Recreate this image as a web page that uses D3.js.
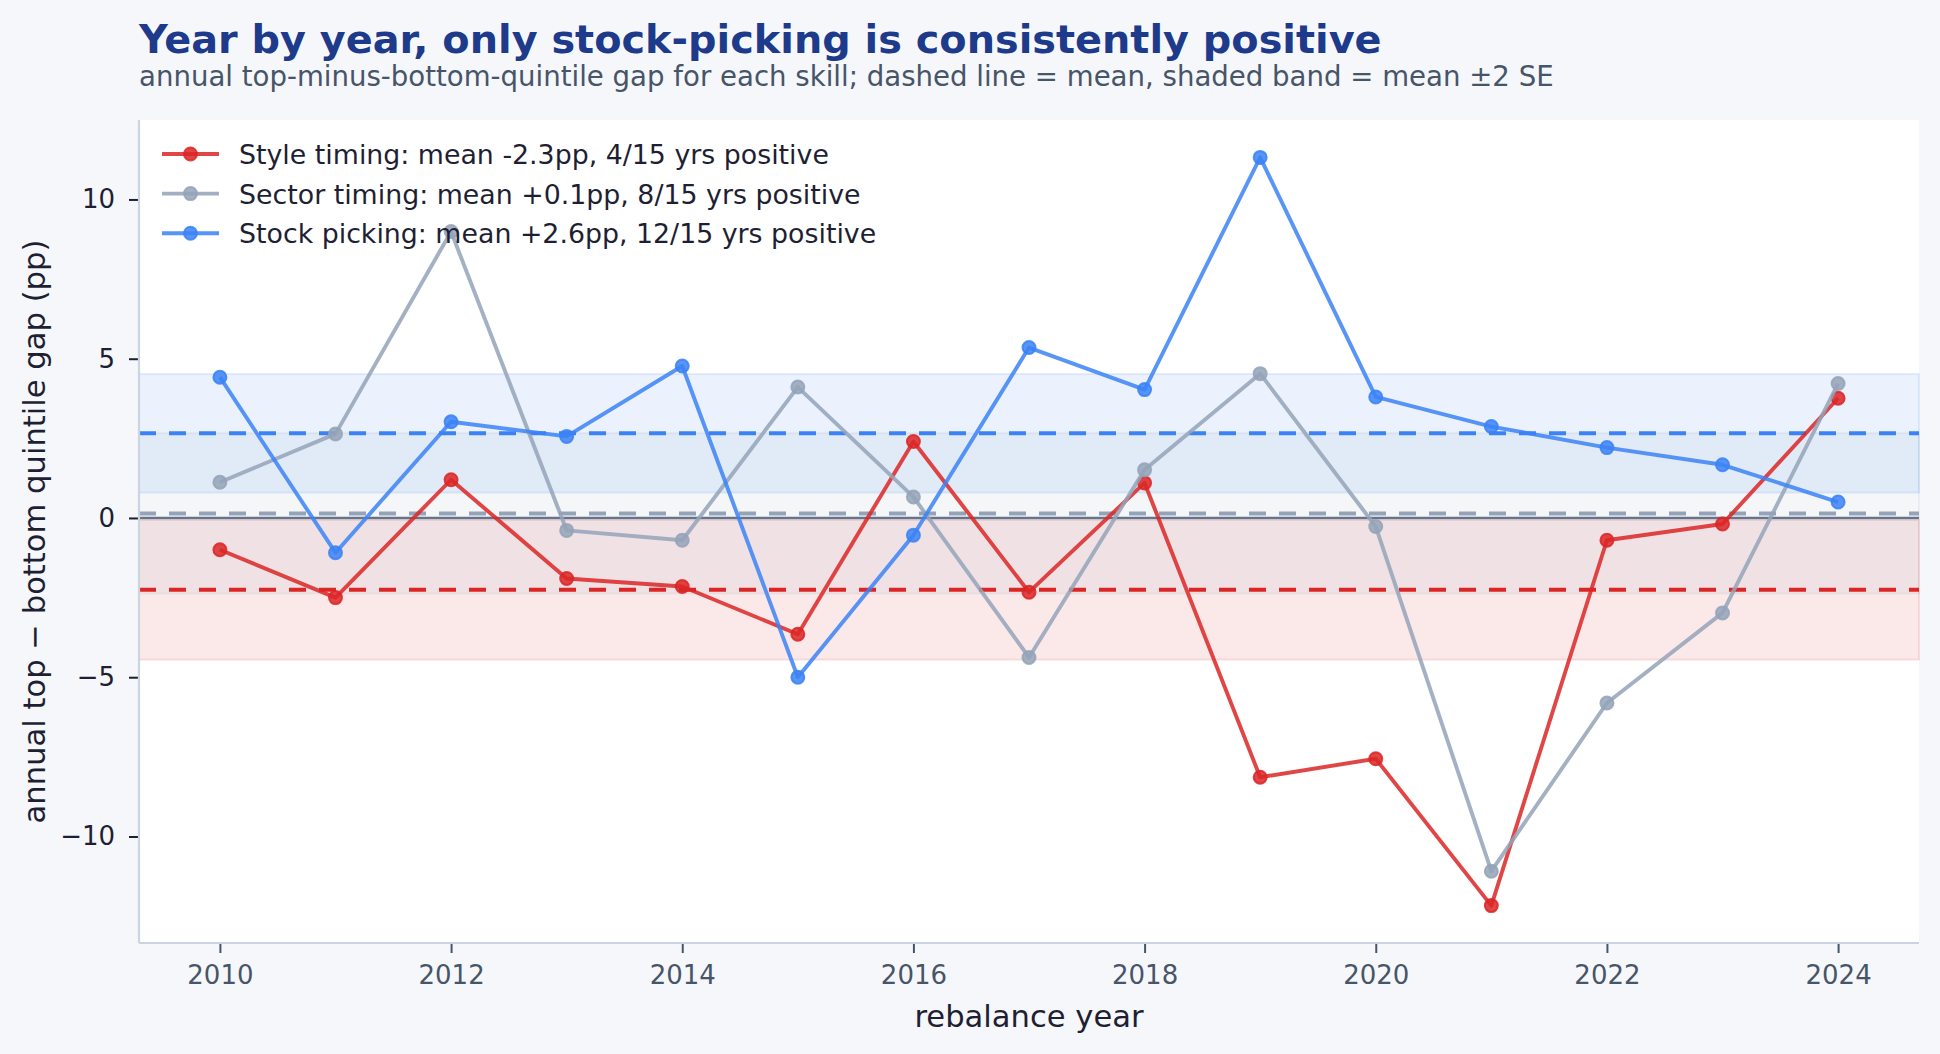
<!DOCTYPE html>
<html>
<head>
<meta charset="utf-8">
<script src="https://cdn.jsdelivr.net/npm/d3@7"></script>
<style>
    body { margin: 0; background: #f6f7fb; }
    svg text { font-family: 'DejaVu Sans', sans-serif; }
</style>
</head>
<body>
<div id="chart"></div>
<script>
// data
var years = [2010, 2011, 2012, 2013, 2014, 2015, 2016, 2017, 2018, 2019, 2020, 2021, 2022, 2023, 2024];
var styleTiming  = [-1.0, -2.5, 1.2, -1.9, -2.15, -3.65, 2.4, -2.33, 1.1, -8.14, -7.56, -12.17, -0.7, -0.19, 3.76];
var sectorTiming = [1.12, 2.64, 8.99, -0.39, -0.7, 4.11, 0.66, -4.38, 1.51, 4.53, -0.27, -11.09, -5.81, -2.98, 4.22];
var stockPicking = [4.42, -1.09, 3.02, 2.56, 4.77, -5.0, -0.54, 5.35, 4.03, 11.32, 3.8, 2.87, 2.21, 1.67, 0.5];

var seriesLabels = [
    'Style timing: mean -2.3pp, 4/15 yrs positive',
    'Sector timing: mean +0.1pp, 8/15 yrs positive',
    'Stock picking: mean +2.6pp, 12/15 yrs positive'
];
var seriesColors = ['#dc2626', '#94a3b8', '#3b82f6'];
var xTicks = [2010, 2012, 2014, 2016, 2018, 2020, 2022, 2024];
var yTicks = [-10, -5, 0, 5, 10];

var series = [styleTiming, sectorTiming, stockPicking].map(function(vals, i) {
    return {
        label: seriesLabels[i],
        color: seriesColors[i],
        values: vals.map(function(v, j) { return {year: years[j], value: v}; }),
        mean: d3.mean(vals),
        // band = mean +/- 2 standard errors
        se2: 2 * d3.deviation(vals) / Math.sqrt(vals.length)
    };
});

var W = 1940, H = 1054;
var margin = {top: 120, right: 21, bottom: 111, left: 139};
var width = W - margin.left - margin.right,
    height = H - margin.top - margin.bottom;

var svg = d3.select('#chart').append('svg')
    .attr('width', W)
    .attr('height', H)
    .style('background', '#f6f7fb');

// titles
svg.append('text')
    .attr('x', margin.left).attr('y', 53)
    .style('font-size', '39.8px').style('font-weight', 'bold')
    .style('fill', '#1e3a8a')
    .text('Year by year, only stock-picking is consistently positive');
svg.append('text')
    .attr('x', margin.left).attr('y', 86)
    .style('font-size', '27.6px')
    .style('fill', '#475569')
    .text('annual top-minus-bottom-quintile gap for each skill; dashed line = mean, shaded band = mean \u00b12 SE');

var chart = svg.append('g')
    .attr('transform', 'translate(' + margin.left + ',' + margin.top + ')');

chart.append('rect')
    .attr('width', width).attr('height', height)
    .style('fill', '#ffffff');

// scales (5% padding like matplotlib)
var xScale = d3.scaleLinear()
    .domain([2009.3, 2024.7])
    .range([0, width]);
var allVals = styleTiming.concat(sectorTiming, stockPicking);
var yExt = d3.extent(allVals);
var pad = (yExt[1] - yExt[0]) * 0.05;
var yScale = d3.scaleLinear()
    .domain([yExt[0] - pad, yExt[1] + pad])
    .range([height, 0]);

// shaded bands
chart.selectAll('rect.band')
    .data(series)
    .enter().append('rect')
    .attr('class', 'band')
    .attr('x', 0)
    .attr('width', width)
    .attr('y', function(d) { return yScale(d.mean + d.se2); })
    .attr('height', function(d) { return yScale(d.mean - d.se2) - yScale(d.mean + d.se2); })
    .style('fill', function(d) { return d.color; })
    .style('fill-opacity', 0.1)
    .style('stroke', function(d) { return d.color; })
    .style('stroke-opacity', 0.12)
    .style('stroke-width', 2);

// zero line
chart.append('line')
    .attr('x1', 0).attr('x2', width)
    .attr('y1', yScale(0)).attr('y2', yScale(0))
    .style('stroke', '#64748b')
    .style('stroke-width', 2.6);

// dashed mean lines
chart.selectAll('line.mean')
    .data(series)
    .enter().append('line')
    .attr('class', 'mean')
    .attr('x1', 0).attr('x2', width)
    .attr('y1', function(d) { return yScale(d.mean); })
    .attr('y2', function(d) { return yScale(d.mean); })
    .style('stroke', function(d) { return d.color; })
    .style('stroke-width', 4)
    .style('stroke-dasharray', '17,13');

// line generator
var line = d3.line()
    .x(function(d) { return xScale(d.year); })
    .y(function(d) { return yScale(d.value); });

var seriesG = chart.selectAll('g.series')
    .data(series)
    .enter().append('g')
    .attr('class', 'series');
seriesG.append('path')
    .attr('d', function(d) { return line(d.values); })
    .style('fill', 'none')
    .style('stroke', function(d) { return d.color; })
    .style('stroke-width', 3.9)
    .style('stroke-linejoin', 'round')
    .style('opacity', 0.85);
seriesG.each(function(s) {
    d3.select(this).selectAll('circle')
        .data(s.values)
        .enter().append('circle')
        .attr('cx', function(d) { return xScale(d.year); })
        .attr('cy', function(d) { return yScale(d.value); })
        .attr('r', 6.5)
        .style('fill', s.color)
        .style('fill-opacity', 0.85)
        .style('stroke', s.color)
        .style('stroke-opacity', 0.85)
        .style('stroke-width', 2);
});

// axes
var xAxis = d3.axisBottom(xScale)
    .tickValues(xTicks)
    .tickFormat(d3.format('d'))
    .tickSize(10)
    .tickPadding(13);
var xAxisG = chart.append('g')
    .attr('transform', 'translate(0,' + height + ')')
    .call(xAxis);
xAxisG.select('.domain').remove();
xAxisG.selectAll('line').style('stroke', '#475569').style('stroke-width', 2);
xAxisG.selectAll('text')
    .style('font-size', '26px')
    .style('font-family', "'DejaVu Sans', sans-serif")
    .style('fill', '#475569');

var yAxis = d3.axisLeft(yScale)
    .tickValues(yTicks)
    .tickFormat(function(d) { return d < 0 ? '\u2212' + Math.abs(d) : d; })
    .tickSize(10)
    .tickPadding(14);
var yAxisG = chart.append('g').call(yAxis);
yAxisG.select('.domain').remove();
yAxisG.selectAll('line').style('stroke', '#1f1f33').style('stroke-width', 2);
yAxisG.selectAll('text')
    .style('font-size', '26px')
    .style('font-family', "'DejaVu Sans', sans-serif")
    .style('fill', '#1f1f33');

// spines (left + bottom only)
chart.append('line')
    .attr('x1', 0).attr('x2', 0).attr('y1', 0).attr('y2', height)
    .style('stroke', '#cbd5e1').style('stroke-width', 2.2);
chart.append('line')
    .attr('x1', 0).attr('x2', width).attr('y1', height).attr('y2', height)
    .style('stroke', '#cbd5e1').style('stroke-width', 2.2);

// axis labels
svg.append('text')
    .attr('x', margin.left + width / 2).attr('y', 1027)
    .attr('text-anchor', 'middle')
    .style('font-size', '30.6px')
    .style('fill', '#1f1f33')
    .text('rebalance year');
svg.append('text')
    .attr('transform', 'translate(45,' + (margin.top + height / 2) + ') rotate(-90)')
    .attr('text-anchor', 'middle')
    .style('font-size', '30.6px')
    .style('fill', '#1f1f33')
    .text('annual top \u2212 bottom quintile gap (pp)');

// legend
var legend = chart.selectAll('g.legend')
    .data(series)
    .enter().append('g')
    .attr('class', 'legend')
    .attr('transform', function(d, i) { return 'translate(0,' + (34 + i * 39.6) + ')'; });
legend.append('line')
    .attr('x1', 23).attr('x2', 80)
    .style('stroke', function(d) { return d.color; })
    .style('stroke-width', 3.9)
    .style('opacity', 0.85);
legend.append('circle')
    .attr('cx', 51.5).attr('r', 6.5)
    .style('fill', function(d) { return d.color; })
    .style('fill-opacity', 0.85)
    .style('stroke', function(d) { return d.color; })
    .style('stroke-opacity', 0.85)
    .style('stroke-width', 2);
legend.append('text')
    .attr('x', 100).attr('y', 10)
    .style('font-size', '26.8px')
    .style('fill', '#1f1f33')
    .text(function(d) { return d.label; });
</script>
</body>
</html>
